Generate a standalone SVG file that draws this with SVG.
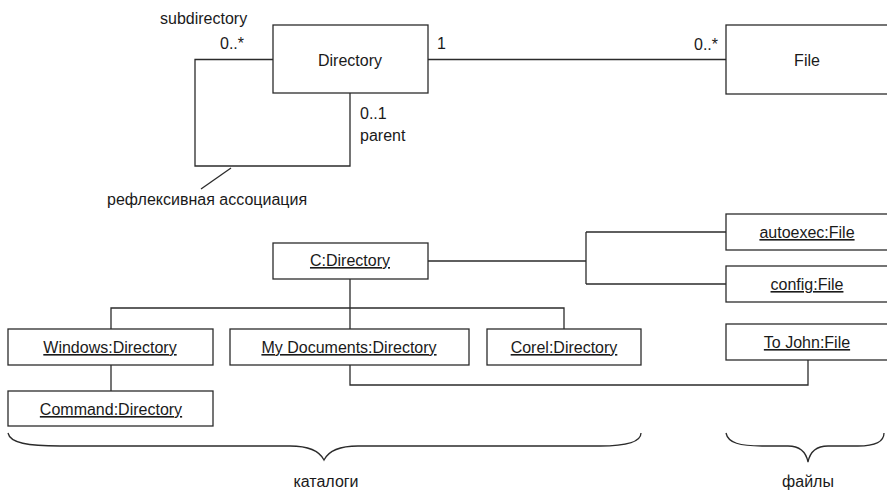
<svg xmlns="http://www.w3.org/2000/svg" width="887" height="492" viewBox="0 0 887 492">
<style>
.box{fill:#fff;stroke:#2b2b2b;stroke-width:1.3}
.ln{fill:none;stroke:#2b2b2b;stroke-width:1.3}
text{font-family:"Liberation Sans",Arial,sans-serif;font-size:16px;fill:#1a1a1a}
.c{text-anchor:middle}
.u{text-decoration:underline}
</style>
<rect width="887" height="492" fill="#fff"/>
<g id="connectors">
<path class="ln" d="M273,59.5 H195 V166 H350 V93"/>
<path class="ln" d="M428,59.5 H726"/>
<path class="ln" d="M231,168 L201,189"/>
<path class="ln" d="M428,261 H586 M586,232 V284 M586,232 H726 M586,284 H726"/>
<path class="ln" d="M350,279 V329 M111,329 V308 H564 V329"/>
<path class="ln" d="M111,365 V391"/>
<path class="ln" d="M350,365 V385 H808 V360"/>
</g>
<g id="braces">
<path class="ln" d="M8,433 C10,443 28,446 60,446 L290,446 C310,446 320,452 324,460 C328,452 338,446 358,446 L600,446 C630,446 641,441 641,433"/>
<path class="ln" d="M726,433 C728,443 740,446 762,446 L788,446 C800,446 806,452 808,462 C810,452 816,446 828,446 L858,446 C876,446 884,441 884,433"/>
</g>
<g id="Directory">
<rect class="box" x="273" y="25" width="155" height="68"/>
<text class="c" x="350" y="66">Directory</text>
</g>
<g id="File">
<rect class="box" x="726" y="25" width="200" height="69"/>
<text class="c" x="807" y="66">File</text>
</g>
<g id="labels">
<text x="160" y="24">subdirectory</text>
<text x="220" y="49">0..*</text>
<text x="437" y="49">1</text>
<text x="718" y="50" text-anchor="end">0..*</text>
<text x="360" y="119">0..1</text>
<text x="360" y="141">parent</text>
<text x="107" y="205">рефлексивная ассоциация</text>
<text class="c" x="326" y="487">каталоги</text>
<text class="c" x="808" y="487">файлы</text>
</g>
<g id="CDirectory">
<rect class="box" x="273" y="243" width="155" height="36"/>
<text class="c u" x="350" y="266">C:Directory</text>
</g>
<g id="autoexec">
<rect class="box" x="726" y="214" width="200" height="36"/>
<text class="c u" x="807" y="238">autoexec:File</text>
</g>
<g id="config">
<rect class="box" x="726" y="266" width="200" height="36"/>
<text class="c u" x="807" y="290">config:File</text>
</g>
<g id="ToJohn">
<rect class="box" x="726" y="324" width="200" height="36"/>
<text class="c u" x="807" y="348">To John:File</text>
</g>
<g id="Windows">
<rect class="box" x="8" y="329" width="205" height="36"/>
<text class="c u" x="110" y="353">Windows:Directory</text>
</g>
<g id="MyDocuments">
<rect class="box" x="230" y="329" width="239" height="36"/>
<text class="c u" x="349" y="353">My Documents:Directory</text>
</g>
<g id="Corel">
<rect class="box" x="487" y="329" width="154" height="36"/>
<text class="c u" x="564" y="353">Corel:Directory</text>
</g>
<g id="Command">
<rect class="box" x="8" y="391" width="205" height="35"/>
<text class="c u" x="111" y="415">Command:Directory</text>
</g>
</svg>
